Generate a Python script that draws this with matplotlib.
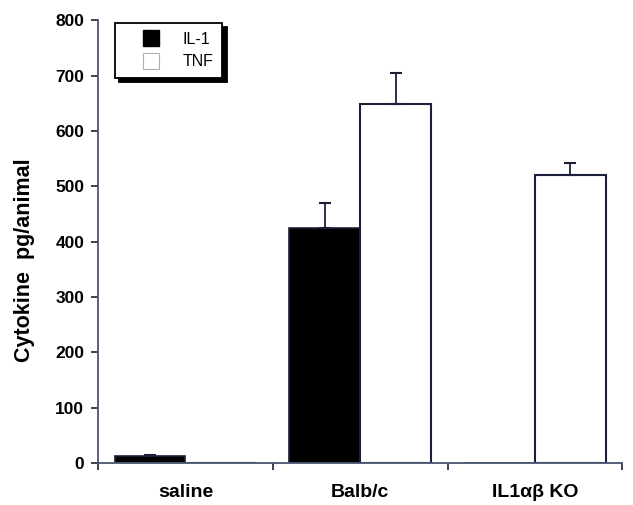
import numpy as np
import matplotlib
matplotlib.use("Agg")
from matplotlib import pyplot as plt
from matplotlib.lines import Line2D

plt.rcParams['font.family'] = ['Liberation Sans', 'DejaVu Sans']

groups = ["saline", "Balb/c", "IL1\u03b1\u03b2 KO"]
il1 = [13, 425, 0]
il1_err = [2, 45, 0]
tnf = [0, 648, 520]
tnf_err = [0, 56, 22]

edge = "#1c1f3a"

fig = plt.figure(figsize=(6.33, 5.05), dpi=100)
ax = fig.add_axes([0.155, 0.083, 0.828, 0.877])

x = np.arange(len(groups))
w = 0.405

ax.bar(x - w / 2, il1, w, color="black", edgecolor=edge, linewidth=1.2)
ax.bar(x + w / 2, tnf, w, color="white", edgecolor=edge, linewidth=1.5)

# error bars, upper only
for xs, vals, errs in [(x - w / 2, il1, il1_err), (x + w / 2, tnf, tnf_err)]:
    for xi, v, e in zip(xs, vals, errs):
        if e > 0:
            ax.errorbar(xi, v, yerr=[[0], [e]], fmt="none", ecolor=edge,
                        elinewidth=1.3, capsize=4, capthick=1.5)

ax.set_xlim(-0.5, 2.5)
ax.set_ylim(0, 800)
ax.set_yticks(range(0, 801, 100))
ax.set_xticks(x)
ax.set_xticklabels(groups, fontsize=14, fontweight="bold")
ax.set_xticks([-0.5, 0.5, 1.5, 2.5], minor=True)
ax.tick_params(axis="x", which="major", length=0, pad=15)
ax.tick_params(axis="x", which="minor", length=5, width=1.2, color=edge, direction="out")
ax.tick_params(axis="y", length=5, width=1.2, color=edge, labelsize=12.5, pad=5)
for lab in ax.get_yticklabels():
    lab.set_fontweight("bold")

ax.spines["top"].set_visible(False)
ax.spines["right"].set_visible(False)
ax.spines["left"].set_color("#4a5670")
ax.spines["bottom"].set_color("#4a5670")
ax.spines["left"].set_linewidth(1.3)
ax.spines["bottom"].set_linewidth(1.3)

ax.set_ylabel("Cytokine  pg/animal", fontsize=15.5, fontweight="bold")
ax.yaxis.set_label_coords(-0.121, 0.458)

handles = [
    Line2D([], [], linestyle="none", marker="s", markersize=11,
           markerfacecolor="black", markeredgecolor="black", label="IL-1"),
    Line2D([], [], linestyle="none", marker="s", markersize=11,
           markerfacecolor="white", markeredgecolor="#b0b0b0", markeredgewidth=0.8, label="TNF"),
]
leg = ax.legend(handles=handles, loc="upper left", bbox_to_anchor=(0.032, 0.993),
                borderaxespad=0, fancybox=False,
                shadow={"color": "black", "alpha": 1.0, "ox": 3, "oy": -3},
                fontsize=11.5, handlelength=3.4, handletextpad=0.3,
                labelspacing=0.45, borderpad=0.55)
leg.get_frame().set_edgecolor("black")
leg.get_frame().set_linewidth(1.3)

plt.savefig("out.png", dpi=100)
